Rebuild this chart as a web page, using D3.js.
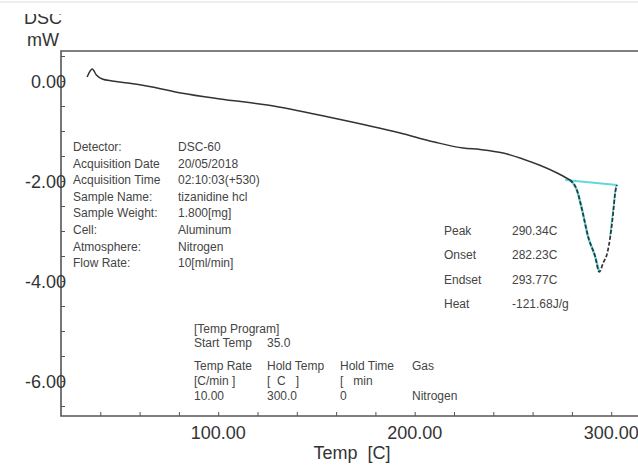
<!DOCTYPE html>
<html>
<head>
<meta charset="utf-8">
<script src="https://cdn.jsdelivr.net/npm/d3@7"></script>
<style>
  body { margin: 0; background: #fff; }
  svg { display: block; font-family: "Liberation Sans", Arial, sans-serif; }
</style>
</head>
<body>
<div id="graph"></div>
<script>
// DSC curve
const temps = [33.3, 35.9, 38, 41, 46, 54, 65, 81, 101, 125, 158.5, 192.6, 210, 224.7, 233.3, 245, 255, 263.4, 272.5, 279, 282.7, 285.2, 288.3, 291.9, 293.9, 295.9, 298, 299.5, 301, 302, 303];
const dsc   = [0.08, 0.24, 0.12, 0.04, 0.0, -0.04, -0.11, -0.24, -0.36, -0.48, -0.74, -1.04, -1.22, -1.34, -1.37, -1.44, -1.56, -1.68, -1.84, -1.98, -2.2, -2.58, -3.12, -3.52, -3.82, -3.64, -3.44, -3.12, -2.64, -2.24, -2.08];

// peak analysis lines (cyan)
const baseT = [276.6, 303];
const baseV = [-1.98, -2.08];
const endT = [302.5, 299.5];
const endV = [-2.08, -3.08];
const peakStart = 276;

const xTickLabels = [100, 200, 300];
const yTickLabels = [0, -2, -4, -6];

const infoLabels = ["Detector:", "Acquisition Date", "Acquisition Time", "Sample Name:", "Sample Weight:", "Cell:", "Atmosphere:", "Flow Rate:"];
const infoValues = ["DSC-60", "20/05/2018", "02:10:03(+530)", "tizanidine hcl", "1.800[mg]", "Aluminum", "Nitrogen", "10[ml/min]"];

const resultLabels = ["Peak", "Onset", "Endset", "Heat"];
const resultValues = ["290.34C", "282.23C", "293.77C", "-121.68J/g"];

const programRows = [
  ["[Temp Program]"],
  ["Start Temp", "35.0"],
  ["Temp Rate", "Hold Temp", "Hold Time", "Gas"],
  ["[C/min ]", "[  C   ]", "[   min"],
  ["10.00", "300.0", "0", "Nitrogen"]
];

const width = 638;
const height = 465;

const svg = d3.select("#graph")
  .append("svg")
  .attr("width", width)
  .attr("height", height);

const x = d3.scaleLinear().domain([20, 320]).range([61, 650.5]);
const y = d3.scaleLinear().domain([-6.7, 0.6]).range([416, 51]);

const axisColor = "#555";
const textColor = "#444";

// faint line at very top
svg.append("line")
  .attr("x1", 0).attr("x2", width)
  .attr("y1", 2).attr("y2", 2)
  .attr("stroke", "#ddd");

// frame (left, top, bottom)
svg.append("path")
  .attr("d", `M${x(320)},${y(0.6)}H${x(20)}V${y(-6.7)}H${x(320)}`)
  .attr("fill", "none")
  .attr("stroke", axisColor)
  .attr("stroke-width", 1.6);

// x axis ticks (inward)
const xAxis = d3.axisBottom(x)
  .tickValues(d3.range(40, 320, 20))
  .tickSize(-4)
  .tickFormat("");
svg.append("g")
  .attr("transform", `translate(0,${y(-6.7)})`)
  .call(xAxis)
  .call(g => g.select(".domain").remove())
  .call(g => g.selectAll(".tick line").attr("stroke", axisColor));

// y axis ticks (inward)
const yAxis = d3.axisLeft(y)
  .tickValues(d3.range(-6.5, 0.6, 0.5))
  .tickSize(-4)
  .tickFormat("");
svg.append("g")
  .attr("transform", `translate(${x(20)},0)`)
  .call(yAxis)
  .call(g => g.select(".domain").remove())
  .call(g => g.selectAll(".tick line").attr("stroke", axisColor));

// tick labels
svg.selectAll(".xlab")
  .data(xTickLabels)
  .join("text")
  .attr("x", d => x(d))
  .attr("y", 439)
  .attr("text-anchor", "middle")
  .attr("font-size", 18)
  .attr("fill", "#333")
  .text(d => d.toFixed(2));

svg.selectAll(".ylab")
  .data(yTickLabels)
  .join("text")
  .attr("x", 66)
  .attr("y", d => y(d) + 6.5)
  .attr("text-anchor", "end")
  .attr("font-size", 18)
  .attr("fill", "#333")
  .text(d => d.toFixed(2));

// axis titles
svg.append("defs").append("clipPath")
  .attr("id", "topclip")
  .append("rect")
  .attr("x", 0).attr("y", 14).attr("width", 120).attr("height", 30);

svg.append("text")
  .attr("x", 43).attr("y", 24)
  .attr("text-anchor", "middle")
  .attr("font-size", 18)
  .attr("fill", "#333")
  .attr("clip-path", "url(#topclip)")
  .text("DSC");

svg.append("text")
  .attr("x", 43).attr("y", 46)
  .attr("text-anchor", "middle")
  .attr("font-size", 18)
  .attr("fill", "#333")
  .text("mW");

svg.append("text")
  .attr("x", 352).attr("y", 459)
  .attr("text-anchor", "middle")
  .attr("font-size", 18)
  .attr("fill", "#333")
  .attr("xml:space", "preserve")
  .text("Temp  [C]");

// curve
const pts = temps.map((t, i) => ({ t, v: dsc[i] }));
const line = d3.line()
  .x(d => x(d.t))
  .y(d => y(d.v))
  .curve(d3.curveMonotoneX);

const cyan = "#5fd8dc";

// cyan highlight of the peak part
svg.append("path")
  .datum(pts.filter(d => d.t >= peakStart && d.t <= 294))
  .attr("d", line)
  .attr("fill", "none")
  .attr("stroke", cyan)
  .attr("stroke-width", 2.4);

svg.append("path")
  .datum(baseT.map((t, i) => ({ t, v: baseV[i] })))
  .attr("d", d3.line().x(d => x(d.t)).y(d => y(d.v)))
  .attr("fill", "none")
  .attr("stroke", cyan)
  .attr("stroke-width", 1.8);

svg.append("path")
  .datum(endT.map((t, i) => ({ t, v: endV[i] })))
  .attr("d", d3.line().x(d => x(d.t)).y(d => y(d.v)))
  .attr("fill", "none")
  .attr("stroke", cyan)
  .attr("stroke-width", 1.8);

// main curve, solid before the peak, broken over the cyan
svg.append("path")
  .datum(pts.filter(d => d.t <= peakStart + 3))
  .attr("d", line)
  .attr("fill", "none")
  .attr("stroke", "#333")
  .attr("stroke-width", 1.5);

svg.append("path")
  .datum(pts.filter(d => d.t >= peakStart - 3))
  .attr("d", line)
  .attr("fill", "none")
  .attr("stroke", "#333")
  .attr("stroke-width", 1.7)
  .attr("stroke-dasharray", "4,2");

// info block
const infoY = (d, i) => 151 + i * 16.6;
svg.selectAll(".info-l")
  .data(infoLabels)
  .join("text")
  .attr("x", 73)
  .attr("y", infoY)
  .attr("font-size", 12)
  .attr("fill", textColor)
  .text(d => d);

svg.selectAll(".info-v")
  .data(infoValues)
  .join("text")
  .attr("x", 178)
  .attr("y", infoY)
  .attr("font-size", 12)
  .attr("fill", textColor)
  .text(d => d);

// results block
svg.selectAll(".res-l")
  .data(resultLabels)
  .join("text")
  .attr("x", 444)
  .attr("y", (d, i) => 235 + i * 24.3)
  .attr("font-size", 12)
  .attr("fill", textColor)
  .text(d => d);

svg.selectAll(".res-v")
  .data(resultValues)
  .join("text")
  .attr("x", 512)
  .attr("y", (d, i) => 235 + i * 24.3)
  .attr("font-size", 12)
  .attr("fill", textColor)
  .text(d => d);

// temperature program block
const rowY = [333, 347, 370, 385, 400];
const colX = [194, 267, 340, 412];
programRows.forEach((row, r) => {
  row.forEach((cell, c) => {
    svg.append("text")
      .attr("x", colX[c])
      .attr("y", rowY[r])
      .attr("font-size", 12)
      .attr("fill", textColor)
      .attr("xml:space", "preserve")
      .style("white-space", "pre")
      .text(cell);
  });
});
</script>
</body>
</html>
